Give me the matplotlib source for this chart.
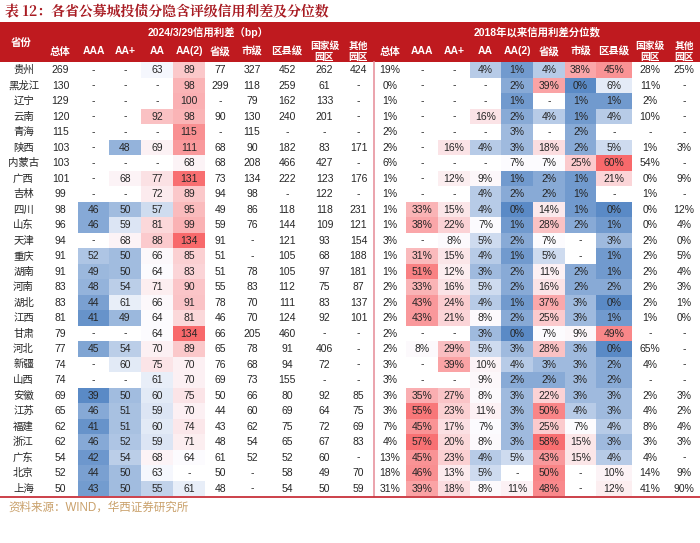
import numpy as np
import matplotlib
matplotlib.use('Agg')
import matplotlib.pyplot as plt
from matplotlib.colors import LinearSegmentedColormap, TwoSlopeNorm
from matplotlib.patches import Rectangle

plt.rcParams['font.family'] = ['Liberation Sans', 'Noto Sans CJK SC', 'DejaVu Sans']

N = None

provinces = ['贵州', '黑龙江', '辽宁', '云南', '青海', '陕西', '内蒙古', '广西', '吉林', '四川',
             '山东', '天津', '重庆', '湖南', '河南', '湖北', '江西', '甘肃', '河北', '新疆',
             '山西', '安徽', '江苏', '福建', '浙江', '广东', '北京', '上海']

col_labels = ['总体', 'AAA', 'AA+', 'AA', 'AA(2)', '省级', '市级', '区县级', '国家级\n园区', '其他\n园区']

# 2024/3/29 credit spread (bp)
spread_total = [269, 130, 129, 120, 115, 103, 103, 101, 99, 98, 96, 94, 91, 91, 83, 83, 81, 79, 77, 74, 74, 69, 65, 62, 62, 54, 52, 50]
spread_aaa = [N, N, N, N, N, N, N, N, N, 46, 46, N, 52, 49, 48, 44, 41, N, 45, N, N, 39, 46, 41, 46, 42, 44, 43]
spread_aap = [N, N, N, N, N, 48, N, 68, N, 50, 59, 68, 50, 50, 54, 61, 49, N, 54, 60, N, 50, 51, 51, 52, 54, 50, 50]
spread_aa = [63, N, N, 92, N, 69, N, 77, 72, 57, 81, 88, 66, 64, 71, 66, 64, 64, 70, 75, 61, 60, 59, 60, 59, 68, 63, 55]
spread_aa2 = [89, 98, 100, 98, 115, 111, 68, 131, 89, 95, 99, 134, 85, 83, 90, 91, 81, 134, 89, 70, 70, 75, 70, 74, 71, 64, N, 61]
spread_prov = [77, 299, N, 90, N, 68, 68, 73, 94, 49, 59, 91, 51, 51, 55, 78, 46, 66, 65, 76, 69, 50, 44, 43, 48, 61, 50, 48]
spread_city = [327, 118, 79, 130, 115, 90, 208, 134, 98, 86, 76, N, N, 78, 83, 70, 70, 205, 78, 68, 73, 66, 60, 62, 54, 52, N, N]
spread_county = [452, 259, 162, 240, N, 182, 466, 222, N, 118, 144, 121, 105, 105, 112, 111, 124, 460, 91, 94, 155, 80, 69, 75, 65, 52, 58, 54]
spread_natl = [262, 61, 133, 201, N, 83, 427, 123, 122, 118, 109, 93, 68, 97, 75, 83, 92, N, 406, 72, N, 92, 64, 72, 67, 60, 49, 50]
spread_other = [424, N, N, N, N, 171, N, 176, N, 231, 121, 154, 188, 181, 87, 137, 101, N, N, N, N, 85, 75, 69, 83, N, 70, 59]

# percentile since 2018 (%)
pct_total = [19, 0, 1, 1, 2, 2, 6, 1, 1, 1, 1, 3, 1, 1, 2, 2, 2, 2, 2, 3, 3, 3, 3, 7, 4, 13, 18, 31]
pct_aaa = [N, N, N, N, N, N, N, N, N, 33, 38, N, 31, 51, 33, 43, 43, N, 8, N, N, 35, 55, 45, 57, 45, 46, 39]
pct_aap = [N, N, N, N, N, 16, N, 12, N, 15, 22, 8, 15, 12, 16, 24, 21, N, 29, 39, N, 27, 23, 17, 20, 23, 13, 18]
pct_aa = [4, N, N, 16, N, 4, N, 9, 4, 4, 7, 5, 4, 3, 5, 4, 8, 3, 5, 10, 9, 8, 11, 7, 8, 4, 5, 8]
pct_aa2 = [1, 2, 1, 2, 3, 3, 7, 1, 2, 0, 1, 2, 1, 2, 2, 1, 2, 0, 3, 4, 2, 3, 3, 3, 3, 5, N, 11]
pct_prov = [4, 39, N, 4, N, 18, 7, 2, 2, 14, 28, 7, 5, 11, 16, 37, 25, 7, 28, 3, 2, 22, 50, 25, 58, 43, 50, 48]
pct_city = [38, 0, 1, 1, 2, 2, 25, 1, 1, 1, 2, N, N, 2, 2, 3, 3, 9, 3, 3, 3, 3, 4, 7, 15, 15, N, N]
pct_county = [45, 6, 1, 4, N, 5, 60, 21, N, 0, 1, 3, 1, 1, 2, 0, 1, 49, 0, 2, 2, 3, 3, 4, 3, 4, 10, 12]
pct_natl = [28, 11, 2, 10, N, 1, 54, 0, 1, 0, 0, 2, 2, 2, 2, 2, 1, N, 65, 4, N, 2, 4, 8, 3, 4, 14, 41]
pct_other = [25, N, N, N, N, 3, N, 9, N, 12, 4, 0, 5, 4, 3, 1, 0, N, N, N, N, 3, 2, 4, 3, N, 9, 90]

spread_cols = [spread_total, spread_aaa, spread_aap, spread_aa, spread_aa2,
               spread_prov, spread_city, spread_county, spread_natl, spread_other]
pct_cols = [pct_total, pct_aaa, pct_aap, pct_aa, pct_aa2,
            pct_prov, pct_city, pct_county, pct_natl, pct_other]


def to_arr(cols):
    return np.array([[np.nan if v is None else v for v in c] for c in cols], dtype=float).T


left = to_arr(spread_cols)
right = to_arr(pct_cols)

# layout (pixels)
header_red = '#BF1A1F'
txt = '#262626'
left_edges = np.array([0, 43, 78, 109, 141, 173, 205, 236, 268, 306, 343, 374])
right_edges = np.array([374, 406, 438, 470, 501, 533, 565, 596, 632, 668, 700])
top, row_h = 62.3, 15.5
row_edges = top + row_h * np.arange(len(provinces) + 1)
row_mid = (row_edges[:-1] + row_edges[1:]) / 2

cmap = LinearSegmentedColormap.from_list('xl3', ['#5A8AC6', '#FCFCFF', '#F8696B'])

fig = plt.figure(figsize=(7, 5.43), dpi=100)
ax = fig.add_axes([0, 0, 1, 1])
ax.set_xlim(0, 700)
ax.set_ylim(543, 0)
ax.axis('off')

# title
ax.text(5, 12, '表 12：各省公募城投债分隐含评级信用利差及分位数', fontsize=10,
        color='#A81B22', fontweight='bold', va='center', ha='left',
        family=['Noto Serif CJK SC', 'Liberation Serif', 'Noto Sans CJK SC'])

# header
ax.add_patch(Rectangle((0, 22), 700, top - 22, color=header_red, lw=0))
ax.text(left_edges[0:2].mean(), 43, '省份', color='white', fontsize=7.5,
        fontweight='bold', ha='center', va='center')
ax.text((left_edges[1] + left_edges[-1]) / 2, 32, '2024/3/29信用利差（bp）', color='white',
        fontsize=7.5, fontweight='bold', ha='center', va='center')
ax.text((right_edges[0] + right_edges[-1]) / 2, 32, '2018年以来信用利差分位数', color='white',
        fontsize=7.5, fontweight='bold', ha='center', va='center')
for edges in (left_edges[1:], right_edges):
    mids = (edges[:-1] + edges[1:]) / 2
    for x, lab in zip(mids, col_labels):
        fs = 7.5 if '\n' not in lab else 7
        ax.text(x, 51.5, lab, color='white', fontsize=fs, fontweight='bold',
                ha='center', va='center', linespacing=1.1)

# heat cells
lv = left[:, 1:5]
lnorm = TwoSlopeNorm(vmin=np.nanmin(lv), vcenter=np.nanmedian(lv), vmax=np.nanmax(lv))
ax.pcolormesh(left_edges[2:7], row_edges, np.ma.masked_invalid(lv), cmap=cmap, norm=lnorm)
rv = right[:, 1:8]
rnorm = TwoSlopeNorm(vmin=np.nanmin(rv), vcenter=7, vmax=np.nanmax(rv))
ax.pcolormesh(right_edges[1:9], row_edges, np.ma.masked_invalid(rv), cmap=cmap, norm=rnorm)

# cell text
lmids = (left_edges[:-1] + left_edges[1:]) / 2
rmids = (right_edges[:-1] + right_edges[1:]) / 2
for i, name in enumerate(provinces):
    y = row_mid[i]
    ax.text(lmids[0] + 2, y, name, fontsize=7.5, color=txt, ha='center', va='center')
    for j in range(10):
        v = left[i, j]
        ax.text(lmids[j + 1], y, '-' if np.isnan(v) else f'{v:.0f}', fontsize=7.5,
                color=txt, ha='center', va='center')
        v = right[i, j]
        ax.text(rmids[j], y, '-' if np.isnan(v) else f'{v:.0f}%', fontsize=7.5,
                color=txt, ha='center', va='center')

# divider and bottom rule
ax.plot([374, 374], [top, row_edges[-1]], color='#E8949E', lw=1.2)
ax.plot([0, 700], [row_edges[-1] + 0.8, row_edges[-1] + 0.8], color='#C8323C', lw=1.3)

ax.text(8, 508, '资料来源：WIND，华西证券研究所', fontsize=8.3, color='#C9A06A',
        ha='left', va='center')

fig.savefig('out.png', dpi=100)
